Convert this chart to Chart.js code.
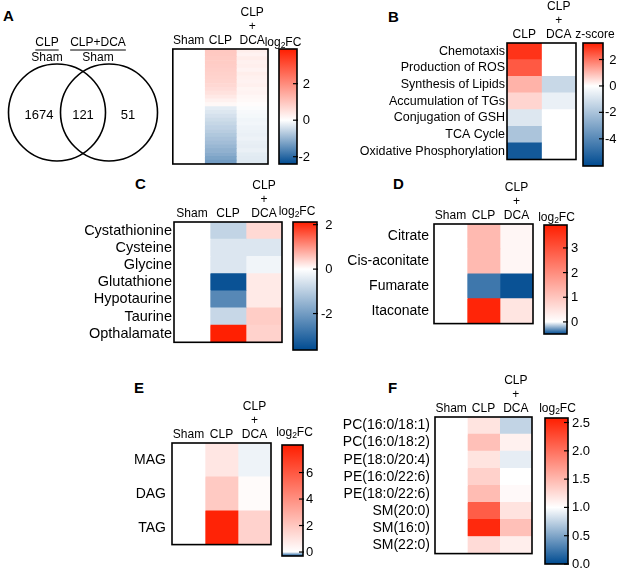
<!DOCTYPE html>
<html>
<head>
<meta charset="utf-8">
<script src="https://cdn.jsdelivr.net/npm/chart.js@4.4.1/dist/chart.umd.min.js"></script>
<style>
  body { margin: 0; width: 617px; height: 568px; position: relative; overflow: hidden; background: #fff;
         font-family: "Liberation Sans", Arial, sans-serif; color: #000; }
  canvas { position: absolute; }
  .panel { position: absolute; font-weight: bold; font-size: 15px; line-height: 1; }
</style>
</head>
<body>
<div class="panel" style="left:3px;top:8px">A</div>
<div class="panel" style="left:388px;top:9px">B</div>
<div class="panel" style="left:135px;top:176px">C</div>
<div class="panel" style="left:393px;top:176px">D</div>
<div class="panel" style="left:134px;top:380px">E</div>
<div class="panel" style="left:388px;top:380px">F</div>
<script>
// ---- data ----
const vennSets = ['CLP', 'CLP+DCA'];
const vennCounts = [1674, 121, 51];

const threeCols = ['Sham', 'CLP', ['CLP', '+', 'DCA']];
const twoCols = ['CLP', ['CLP', '+', 'DCA']];

// A: genes changed vs sham (sorted)
const aSham = [0, 0, 0, 0, 0, 0, 0, 0, 0, 0, 0, 0, 0, 0, 0, 0, 0, 0, 0, 0, 0, 0, 0, 0, 0, 0, 0, 0, 0, 0];
const aCLP = [0.95, 0.93, 0.9, 0.88, 0.86, 0.83, 0.8, 0.77, 0.73, 0.68, 0.6, 0.5, 0.38, 0.25, 0.12,
              -0.25, -0.32, -0.4, -0.47, -0.54, -0.6, -0.67, -0.74, -0.81, -0.88, -0.96, -1.04, -1.12, -1.22, -1.32];
const aDCA = [0.3, 0.22, 0.32, 0.25, 0.28, 0.2, 0.3, 0.24, 0.22, 0.26, 0.18, 0.2, 0.14, 0.1, 0.05,
              -0.04, -0.08, -0.1, -0.14, -0.12, -0.16, -0.18, -0.2, -0.17, -0.22, -0.24, -0.2, -0.26, -0.28, -0.3];
const aRows = aCLP.map((v, i) => 'g' + i);

// B: pathway z-scores
const bRows = ['Chemotaxis', 'Production of ROS', 'Synthesis of Lipids', 'Accumulation of TGs',
               'Conjugation of GSH', 'TCA Cycle', 'Oxidative Phosphorylation'];
const bCLP = [2.95, 2.4, 1.1, 0.6, -0.8, -2.0, -5.6];
const bDCA = [0, 0, -1.3, -0.5, 0, 0, 0];

// C: transsulfuration metabolites
const cRows = ['Cystathionine', 'Cysteine', 'Glycine', 'Glutathione', 'Hypotaurine', 'Taurine', 'Opthalamate'];
const cSham = [0, 0, 0, 0, 0, 0, 0];
const cCLP = [-0.87, -0.5, -0.5, -3.5, -2.4, -0.8, 2.1];
const cDCA = [0.36, -0.5, -0.2, 0.2, 0.2, 0.47, 0.42];

// D: TCA metabolites
const dRows = ['Citrate', 'Cis-aconitate', 'Fumarate', 'Itaconate'];
const dSham = [0, 0, 0, 0];
const dCLP = [1.2, 1.2, -0.37, 3.8];
const dDCA = [0.15, 0.15, -0.47, 0.46];

// E: glycerides
const eRows = ['MAG', 'DAG', 'TAG'];
const eSham = [0, 0, 0];
const eCLP = [0.9, 1.9, 7.9];
const eDCA = [-0.02, 0.15, 1.6];

// F: phospholipids
const fRows = ['PC(16:0/18:1)', 'PC(16:0/18:2)', 'PE(18:0/20:4)', 'PE(16:0/22:6)',
               'PE(18:0/22:6)', 'SM(20:0)', 'SM(16:0)', 'SM(22:0)'];
const fSham = [1, 1, 1, 1, 1, 1, 1, 1];
const fCLP = [1.19, 1.44, 1.19, 1.32, 1.47, 2.14, 2.5, 1.25];
const fDCA = [0.76, 1.1, 0.9, 1.0, 1.04, 1.2, 1.44, 1.12];

// colour bar ranges [min, white, max] and ticks
const aRange = [-2.4, 0, 3.9], aTicks = [-2, 0, 2];
const bRange = [-6.06, 0, 3.25], bTicks = [-4, -2, 0, 2];
const cRange = [-3.64, 0, 2.12], cTicks = [-2, 0, 2];
const dRange = [-0.49, 0, 3.93], dTicks = [0, 1, 2, 3];
const eRange = [-0.3, 0, 8.08], eTicks = [0, 2, 4, 6];
const fRange = [0, 1, 2.58], fTicks = [0, 0.5, 1, 1.5, 2, 2.5];

// ---- drawing ----
const FONT = '"Liberation Sans", Arial, sans-serif';
Chart.defaults.font.family = FONT;
Chart.defaults.color = '#000';

const RED = [255, 30, 0], BLUE = [0, 75, 145];
function heatColor(v, lo, mid, hi) {
  let t, c;
  if (v >= mid) { t = Math.min(1, (v - mid) / (hi - mid)); c = RED; }
  else { t = Math.min(1, (mid - v) / (mid - lo)); c = BLUE; }
  const m = c.map(k => Math.round(255 + (k - 255) * t));
  return `rgb(${m[0]},${m[1]},${m[2]})`;
}

function mkCanvas(left, top, w, h) {
  const c = document.createElement('canvas');
  c.width = w; c.height = h;
  c.style.left = left + 'px'; c.style.top = top + 'px';
  c.style.width = w + 'px'; c.style.height = h + 'px';
  document.body.appendChild(c);
  return c;
}

const framePlugin = {
  id: 'frame',
  afterDraw(chart) {
    const { ctx, chartArea: ca } = chart;
    ctx.save();
    ctx.strokeStyle = '#000';
    ctx.lineWidth = 1.6;
    ctx.strokeRect(ca.left, ca.top, ca.width, ca.height);
    ctx.restore();
  }
};

function heatmap(s) {
  const cw = s.labelW + s.w + 3, chh = s.headerH + s.h + 3;
  const cv = mkCanvas(s.x - s.labelW, s.y - s.headerH, cw, chh);
  const [lo, mid, hi] = s.range;
  new Chart(cv, {
    type: 'bar',
    data: {
      labels: s.rows,
      datasets: s.columns.map(vals => ({
        data: vals.map(() => 1),
        backgroundColor: vals.map(v => heatColor(v, lo, mid, hi)),
        borderWidth: 0, barPercentage: 1, categoryPercentage: 1
      }))
    },
    options: {
      indexAxis: 'y', responsive: false, animation: false,
      layout: { autoPadding: false, padding: { top: 0, left: 0, right: 3, bottom: 3 } },
      plugins: { legend: { display: false }, tooltip: { enabled: false } },
      scales: {
        x: {
          type: 'linear', position: 'top', stacked: true, min: 0, max: s.cols.length,
          grid: { display: false, drawTicks: false }, border: { display: false },
          afterBuildTicks: sc => { sc.ticks = s.cols.map((c, i) => ({ value: i + 0.5 })); },
          afterFit: sc => { sc.height = s.headerH; },
          ticks: { autoSkip: false, maxRotation: 0, padding: 1, font: { size: 12, lineHeight: 1.17 },
                   callback: (v, i) => s.cols[i] }
        },
        y: {
          display: s.showRows, stacked: true,
          grid: { display: false, drawTicks: false }, border: { display: false },
          afterFit: sc => { sc.width = s.labelW; },
          ticks: { autoSkip: false, padding: s.rowPad, font: { size: s.rowFont } }
        }
      }
    },
    plugins: [framePlugin]
  });
}

function colorbar(s) {
  const padL = 26, padT = 28, padR = 34;
  const cv = mkCanvas(s.x - padL, s.y - padT, padL + s.w + padR, padT + s.h + 4);
  const [lo, mid, hi] = s.range;
  const fmt = v => s.decimals ? v.toFixed(1) : String(v);
  const fill = (c) => {
    const ch = c.chart, ca = ch.chartArea;
    if (!ca) return 'transparent';
    const ys = ch.scales.y;
    const g = ch.ctx.createLinearGradient(0, ys.getPixelForValue(lo), 0, ys.getPixelForValue(hi));
    g.addColorStop(0, heatColor(lo, lo, mid, hi));
    g.addColorStop((mid - lo) / (hi - lo), '#ffffff');
    g.addColorStop(1, heatColor(hi, lo, mid, hi));
    return g;
  };
  // ticks, tick labels and title, placed through the y scale
  const axisPlugin = {
    id: 'cbAxis',
    afterDraw(chart) {
      const { ctx, chartArea: ca } = chart, ys = chart.scales.y;
      ctx.save();
      ctx.fillStyle = '#000'; ctx.strokeStyle = '#000';
      ctx.font = '13px ' + FONT;
      const widest = Math.max(...s.ticks.map(v => ctx.measureText(fmt(v)).width));
      ctx.textAlign = 'right'; ctx.textBaseline = 'middle';
      ctx.lineWidth = 1.2;
      s.ticks.forEach(v => {
        const py = ys.getPixelForValue(v);
        ctx.beginPath(); ctx.moveTo(ca.right - 4, py); ctx.lineTo(ca.right + 1, py); ctx.stroke();
        ctx.fillText(fmt(v), ca.right + s.gap + widest, py + 0.5);
      });
      const cy = ca.top - (s.y - s.titleY);
      const parts = s.title === 'log2FC'
        ? [['log', 12, 0], ['2', 8.5, 3], ['FC', 12, 0]]
        : [[s.title, 12, 0]];
      ctx.textAlign = 'left';
      let total = 0;
      parts.forEach(p => { ctx.font = p[1] + 'px ' + FONT; total += ctx.measureText(p[0]).width; });
      let x = (ca.left + ca.right) / 2 + s.titleDx - total / 2;
      parts.forEach(p => {
        ctx.font = p[1] + 'px ' + FONT;
        ctx.fillText(p[0], x, cy + p[2]);
        x += ctx.measureText(p[0]).width;
      });
      ctx.restore();
    }
  };
  new Chart(cv, {
    type: 'bar',
    data: { labels: [''], datasets: [{ data: [[lo, hi]], backgroundColor: fill, borderWidth: 0,
                                       barPercentage: 1, categoryPercentage: 1 }] },
    options: {
      responsive: false, animation: false,
      layout: { autoPadding: false, padding: { left: padL, top: padT, right: padR, bottom: 4 } },
      plugins: { legend: { display: false }, tooltip: { enabled: false } },
      scales: {
        x: { display: false },
        y: { display: false, min: lo, max: hi }
      }
    },
    plugins: [framePlugin, axisPlugin]
  });
}

// Venn diagram
const vennLayout = {
  circles: [{ x: 57, y: 112.5, r: 48.5 }, { x: 109, y: 112.5, r: 48.5 }],
  counts: [[39, 115], [83, 115], [128, 115]],
  heads: [47, 98]
};
(function venn() {
  const cv = mkCanvas(0, 0, 170, 170);
  const textPlugin = {
    id: 'vennText',
    afterDraw(chart) {
      const { ctx } = chart, xs = chart.scales.x, ys = chart.scales.y;
      ctx.save();
      ctx.fillStyle = '#000'; ctx.strokeStyle = '#000';
      ctx.textAlign = 'center'; ctx.textBaseline = 'middle';
      ctx.font = '13px ' + FONT;
      vennCounts.forEach((n, i) => {
        const p = vennLayout.counts[i];
        ctx.fillText(String(n), xs.getPixelForValue(p[0]), ys.getPixelForValue(p[1]));
      });
      ctx.font = '12px ' + FONT;
      vennSets.forEach((name, i) => {
        const cx = xs.getPixelForValue(vennLayout.heads[i]);
        ctx.fillText(name, cx, ys.getPixelForValue(43));
        const w = ctx.measureText(name).width;
        ctx.lineWidth = 1;
        ctx.beginPath();
        ctx.moveTo(cx - w / 2, ys.getPixelForValue(50)); ctx.lineTo(cx + w / 2, ys.getPixelForValue(50));
        ctx.stroke();
        ctx.fillText('Sham', cx, ys.getPixelForValue(58));
      });
      ctx.restore();
    }
  };
  new Chart(cv, {
    type: 'bubble',
    data: { datasets: [{ data: vennLayout.circles, backgroundColor: 'rgba(0,0,0,0)',
                         borderColor: '#000', borderWidth: 1.6, clip: false }] },
    options: {
      responsive: false, animation: false,
      layout: { autoPadding: false, padding: 0 },
      plugins: { legend: { display: false }, tooltip: { enabled: false } },
      scales: { x: { type: 'linear', min: 0, max: 170, display: false },
                y: { type: 'linear', min: 0, max: 170, reverse: true, display: false } }
    },
    plugins: [textPlugin]
  });
})();

heatmap({ x: 172, y: 49, w: 96, h: 115, labelW: 0, headerH: 49, showRows: false, rowFont: 12, rowPad: 2,
          rows: aRows, cols: threeCols, columns: [aSham, aCLP, aDCA], range: aRange });
colorbar({ x: 279, y: 49, w: 18, h: 115, range: aRange, ticks: aTicks, title: 'log2FC', titleY: 43, titleDx: -5, gap: 1.5 });

heatmap({ x: 507, y: 43, w: 69, h: 123, labelW: 150, headerH: 43, showRows: true, rowFont: 12.5, rowPad: 2,
          rows: bRows, cols: twoCols, columns: [bCLP, bDCA], range: bRange });
colorbar({ x: 583, y: 43, w: 20, h: 123, range: bRange, ticks: bTicks, title: 'z-score', titleY: 35, titleDx: 2, gap: 2 });

heatmap({ x: 174, y: 222, w: 108, h: 128, labelW: 120, headerH: 48, showRows: true, rowFont: 14.5, rowPad: 2,
          rows: cRows, cols: threeCols, columns: [cSham, cCLP, cDCA], range: cRange });
colorbar({ x: 293, y: 222, w: 24, h: 128, range: cRange, ticks: cTicks, title: 'log2FC', titleY: 212, titleDx: -8, gap: 4 });

heatmap({ x: 434, y: 224, w: 99, h: 110, labelW: 110, headerH: 50, showRows: true, rowFont: 14, rowPad: 5,
          rows: dRows, cols: threeCols, columns: [dSham, dCLP, dDCA], range: dRange });
colorbar({ x: 544, y: 225, w: 23, h: 109, range: dRange, ticks: dTicks, title: 'log2FC', titleY: 218, titleDx: 1, gap: 4 });

heatmap({ x: 172, y: 443, w: 99, h: 113, labelW: 60, headerH: 50, showRows: true, rowFont: 14, rowPad: 6,
          rows: eRows, cols: threeCols, columns: [eSham, eCLP, eDCA], range: eRange });
colorbar({ x: 282, y: 445, w: 21, h: 111, range: eRange, ticks: eTicks, title: 'log2FC', titleY: 433, titleDx: 2, gap: 3 });

heatmap({ x: 435, y: 417, w: 97, h: 147, labelW: 110, headerH: 48, showRows: true, rowFont: 14, rowPad: 5,
          rows: fRows, cols: threeCols, columns: [fSham, fCLP, fDCA], range: fRange });
colorbar({ x: 545, y: 418, w: 23, h: 146, range: fRange, ticks: fTicks, title: 'log2FC', titleY: 409, titleDx: 1, gap: 4, decimals: true });
</script>
</body>
</html>
